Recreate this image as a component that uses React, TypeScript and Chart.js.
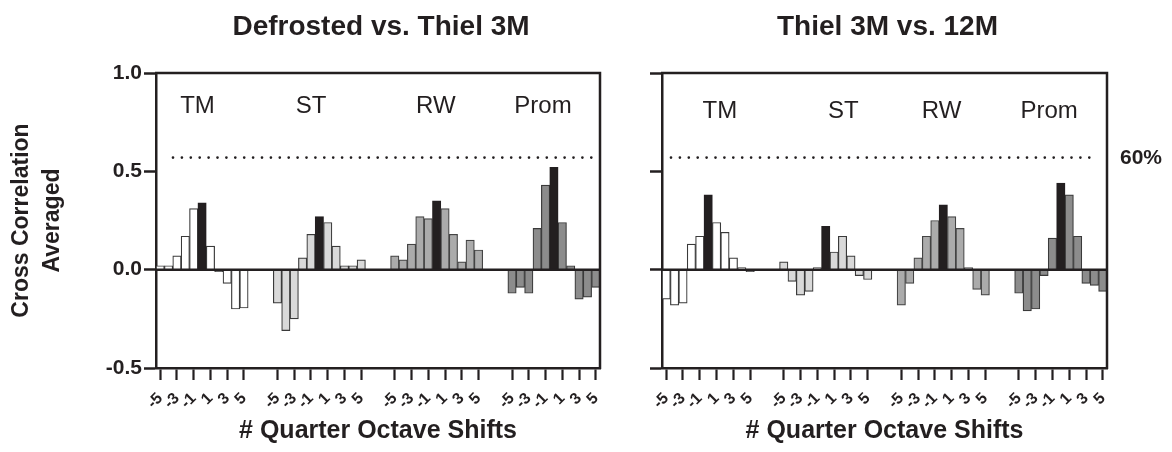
import React, { useEffect, useRef } from 'react';
import { Chart, registerables } from 'chart.js';

Chart.register(...registerables);

// ---------- data ----------
const GROUPS = ['TM', 'ST', 'RW', 'Prom'];
const SHIFTS = [-5, -4, -3, -2, -1, 0, 1, 2, 3, 4, 5];
const TICK_SHIFTS = [-5, -3, -1, 1, 3, 5];
const GAP_SLOTS = 3;

const Y_TICKS = [-0.5, 0, 0.5, 1.0];
const THRESHOLD = 0.57;
const THRESHOLD_LABEL = '60%';

const TITLE_LEFT = 'Defrosted vs. Thiel 3M';
const TITLE_RIGHT = 'Thiel 3M vs. 12M';
const Y_TITLE = ['Cross Correlation', 'Averaged'];
const X_TITLE = '# Quarter Octave Shifts';

// Defrosted vs. Thiel 3M
const TM_LEFT = [0.02, 0.02, 0.07, 0.17, 0.31, 0.34, 0.12, -0.01, -0.07, -0.2, -0.195];
const ST_LEFT = [-0.17, -0.31, -0.25, 0.06, 0.18, 0.27, 0.24, 0.12, 0.02, 0.02, 0.05];
const RW_LEFT = [0.07, 0.05, 0.13, 0.27, 0.26, 0.35, 0.31, 0.18, 0.04, 0.15, 0.1];
const PROM_LEFT = [-0.12, -0.09, -0.12, 0.21, 0.43, 0.52, 0.24, 0.02, -0.15, -0.14, -0.09];

// Thiel 3M vs. 12M
const TM_RIGHT = [-0.15, -0.18, -0.17, 0.13, 0.17, 0.38, 0.24, 0.19, 0.06, 0.01, -0.01];
const ST_RIGHT = [0.04, -0.06, -0.13, -0.11, 0.01, 0.22, 0.09, 0.17, 0.07, -0.03, -0.05];
const RW_RIGHT = [-0.18, -0.07, 0.06, 0.17, 0.25, 0.33, 0.27, 0.21, 0.01, -0.1, -0.13];
const PROM_RIGHT = [-0.12, -0.21, -0.2, -0.03, 0.16, 0.44, 0.38, 0.17, -0.07, -0.08, -0.11];

// ---------- styles ----------
const INK = '#231f20';
const FONT = '"Liberation Sans", Arial, Helvetica, sans-serif';
const GROUP_FILLS = ['#ffffff', '#d9d9d9', '#ababab', '#8c8c8c'];
const GROUP_BORDERS = ['#3a3a3a', '#3a3a3a', '#444444', '#3a3a3a'];
const PEAK_FILL = INK;

type Cat = { group: number; shift: number | null };

function buildCategories(): Cat[] {
  const cats: Cat[] = [];
  GROUPS.forEach((_, g) => {
    SHIFTS.forEach((s) => cats.push({ group: g, shift: s }));
    if (g < GROUPS.length - 1) {
      for (let k = 0; k < GAP_SLOTS; k++) cats.push({ group: g, shift: null });
    }
  });
  return cats;
}

type PanelCfg = {
  title: string;
  series: number[][];
  showYLabels: boolean;
  showThresholdLabel: boolean;
  yAxisWidth: number;
  padRight: number;
  groupAnchors: number[];
  groupLabelDy: number;
  dotStart: number;
  dotEnd: number;
};

function makeDeco(cfg: PanelCfg) {
  return {
    id: 'panelDeco',
    afterDatasetsDraw(chart: any) {
      const { ctx, chartArea: a, scales } = chart;
      const x = scales.x;
      const y = scales.y;
      ctx.save();
      ctx.strokeStyle = INK;
      ctx.lineWidth = 2.5;
      ctx.lineCap = 'butt';
      // zero line
      const y0 = y.getPixelForValue(0);
      ctx.beginPath();
      ctx.moveTo(a.left, y0);
      ctx.lineTo(a.right, y0);
      ctx.stroke();
      // frame top + right
      ctx.beginPath();
      ctx.moveTo(a.left - 1, a.top);
      ctx.lineTo(a.right, a.top);
      ctx.lineTo(a.right, a.bottom + 1);
      ctx.stroke();
      // threshold dotted line
      const yt = y.getPixelForValue(THRESHOLD);
      ctx.setLineDash([0, 8.9]);
      ctx.lineCap = 'round';
      ctx.lineWidth = 2.7;
      ctx.beginPath();
      ctx.moveTo(a.left + cfg.dotStart, yt);
      ctx.lineTo(a.right - cfg.dotEnd, yt);
      ctx.stroke();
      ctx.setLineDash([]);
      // group labels
      ctx.fillStyle = INK;
      ctx.textAlign = 'center';
      ctx.textBaseline = 'middle';
      ctx.font = `24px ${FONT}`;
      cfg.groupAnchors.forEach((idx, i) => {
        ctx.fillText(GROUPS[i], x.getPixelForValue(idx), a.top + cfg.groupLabelDy);
      });
      // panel title
      ctx.font = `bold 28px ${FONT}`;
      ctx.fillText(cfg.title, (a.left + a.right) / 2 + 3, 27);
      // threshold label
      if (cfg.showThresholdLabel) {
        ctx.font = `bold 21px ${FONT}`;
        ctx.textAlign = 'left';
        ctx.fillText(THRESHOLD_LABEL, a.right + 13, yt + 1);
      }
      ctx.restore();
    },
  };
}

function makeChart(canvas: HTMLCanvasElement, cfg: PanelCfg) {
  const cats = buildCategories();
  const labels = cats.map((c) => (c.shift === null ? '' : `${GROUPS[c.group]} ${c.shift}`));
  const values = cats.map((c) => (c.shift === null ? null : cfg.series[c.group][SHIFTS.indexOf(c.shift)]));
  const fills = cats.map((c) => (c.shift === 0 ? PEAK_FILL : GROUP_FILLS[c.group]));
  const borders = cats.map((c) => (c.shift === 0 ? INK : GROUP_BORDERS[c.group]));
  const isTick = (i: number) => {
    const c = cats[i];
    return !!c && c.shift !== null && TICK_SHIFTS.includes(c.shift);
  };

  return new Chart(canvas, {
    type: 'bar',
    data: {
      labels,
      datasets: [
        {
          data: values as any,
          backgroundColor: fills,
          borderColor: borders,
          borderWidth: 1.2,
          barPercentage: 1,
          categoryPercentage: 1,
        },
      ],
    },
    options: {
      responsive: false,
      animation: false,
      devicePixelRatio: 1,
      layout: { padding: { top: 73, right: cfg.padRight, bottom: 0, left: 0 } },
      plugins: {
        legend: { display: false },
        tooltip: { enabled: false },
        title: { display: false },
      },
      scales: {
        x: {
          type: 'category',
          offset: true,
          afterFit: (s: any) => {
            s.height = 84;
          },
          grid: {
            offset: false,
            drawOnChartArea: false,
            drawTicks: true,
            tickLength: 12,
            tickWidth: 2.2,
            tickColor: (ctx: any) => (isTick(ctx.index) ? INK : 'rgba(0,0,0,0)'),
          },
          border: { display: true, color: INK, width: 2.5 },
          ticks: {
            autoSkip: false,
            minRotation: 45,
            maxRotation: 45,
            padding: 9,
            color: INK,
            font: { family: FONT, size: 16, weight: 'bold' },
            callback: (_v: any, i: number) => (isTick(i) ? String(cats[i].shift) : ''),
          },
          title: {
            display: true,
            text: X_TITLE,
            color: INK,
            font: { family: FONT, size: 25, weight: 'bold', lineHeight: 1.2 },
            padding: { top: 0, bottom: 6 },
          },
        },
        y: {
          min: -0.5,
          max: 1.0,
          afterFit: (s: any) => {
            s.width = cfg.yAxisWidth;
          },
          afterBuildTicks: (s: any) => {
            s.ticks = Y_TICKS.map((v) => ({ value: v }));
          },
          grid: {
            color: 'rgba(0,0,0,0)',
            drawTicks: true,
            tickLength: 12,
            tickWidth: 2.5,
            tickColor: INK,
          },
          border: { display: true, color: INK, width: 2.5 },
          ticks: {
            padding: 2,
            color: cfg.showYLabels ? INK : 'rgba(0,0,0,0)',
            font: { family: FONT, size: 21, weight: 'bold' },
            callback: (v: any) => Number(v).toFixed(1),
          },
          title: {
            display: cfg.showYLabels,
            text: Y_TITLE,
            color: INK,
            font: { family: FONT, size: 23, weight: 'bold', lineHeight: 1.35 },
            padding: { top: 6, bottom: 0 },
          },
        },
      },
    } as any,
    plugins: [makeDeco(cfg)],
  });
}

export default function App() {
  const leftRef = useRef<HTMLCanvasElement>(null);
  const rightRef = useRef<HTMLCanvasElement>(null);

  useEffect(() => {
    const charts: Chart[] = [];
    if (leftRef.current) {
      charts.push(
        makeChart(leftRef.current, {
          title: TITLE_LEFT,
          series: [TM_LEFT, ST_LEFT, RW_LEFT, PROM_LEFT],
          showYLabels: true,
          showThresholdLabel: false,
          yAxisWidth: 156,
          padRight: 20,
          groupAnchors: [4.45, 18, 32.9, 45.7],
          groupLabelDy: 33.5,
          dotStart: 17,
          dotEnd: 7,
        })
      );
    }
    if (rightRef.current) {
      charts.push(
        makeChart(rightRef.current, {
          title: TITLE_RIGHT,
          series: [TM_RIGHT, ST_RIGHT, RW_RIGHT, PROM_RIGHT],
          showYLabels: false,
          showThresholdLabel: true,
          yAxisWidth: 42,
          padRight: 65,
          groupAnchors: [6.4, 21.1, 32.8, 45.6],
          groupLabelDy: 38,
          dotStart: 9,
          dotEnd: 9,
        })
      );
    }
    return () => charts.forEach((c) => c.destroy());
  }, []);

  return (
    <div style={{ position: 'absolute', left: 0, top: 0, width: 1172, height: 452, background: '#fff' }}>
      <canvas
        ref={leftRef}
        width={620}
        height={452}
        style={{ position: 'absolute', left: 0, top: 0, width: 620, height: 452 }}
      />
      <canvas
        ref={rightRef}
        width={552}
        height={452}
        style={{ position: 'absolute', left: 620, top: 0, width: 552, height: 452 }}
      />
    </div>
  );
}
